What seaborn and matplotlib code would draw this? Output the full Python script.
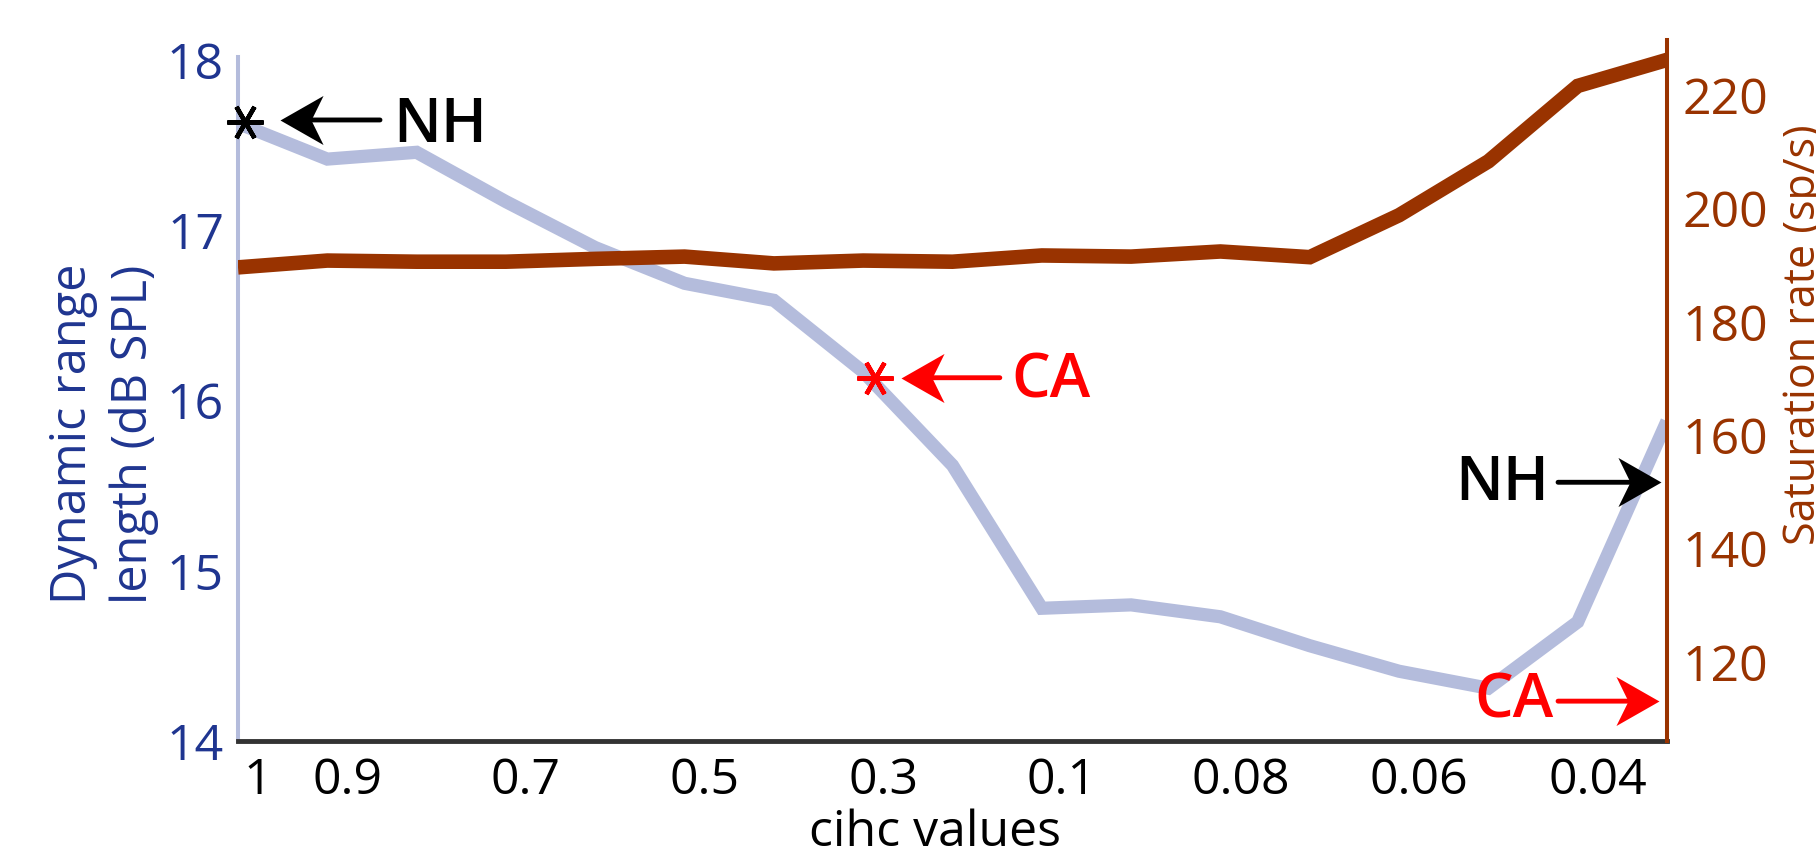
import numpy as np
import pandas as pd
import matplotlib
matplotlib.use("Agg")
import matplotlib.pyplot as plt
import matplotlib.transforms as mtransforms
from matplotlib.path import Path
import seaborn as sns

# ---- data ----
cihc_values = ["1", "0.9", "0.8", "0.7", "0.6", "0.5", "0.4", "0.3", "0.2",
               "0.1", "0.09", "0.08", "0.07", "0.06", "0.05", "0.04", "0.03"]
dynamic_range = [17.63, 17.42, 17.46, 17.17, 16.90, 16.69, 16.59, 16.17, 15.62,
                 14.78, 14.80, 14.73, 14.56, 14.41, 14.31, 14.70, 15.88]
saturation_rate = [189.6, 190.8, 190.6, 190.6, 191.1, 191.5, 190.3, 190.8, 190.6,
                   191.7, 191.5, 192.4, 191.4, 198.8, 208.3, 221.6, 226.2]
tick_labels = ["1", "0.9", "0.7", "0.5", "0.3", "0.1", "0.08", "0.06", "0.04"]
left_ticks = [14, 15, 16, 17, 18]
right_ticks = [120, 140, 160, 180, 200, 220]

BLUE_LINE = "#b4bcdc"
NAVY = "#1f3590"
BROWN = "#993300"
RED = "#ff0000"

sns.set_style("white")
plt.rcParams["font.family"] = ["Open Sans", "DejaVu Sans"]

fig = plt.figure(figsize=(18.16, 8.6), dpi=100)
ax = fig.add_axes([238 / 1816, 1 - 741 / 860, (1667 - 238) / 1816, (741 - 40) / 860])

pos = np.arange(len(cihc_values))
df = pd.DataFrame({"pos": pos, "dr": dynamic_range, "sr": saturation_rate})

sns.lineplot(data=df, x="pos", y="dr", ax=ax, color=BLUE_LINE, linewidth=9.5,
             sort=False, solid_joinstyle="miter", solid_capstyle="butt")
ax.set_xlim(0, len(cihc_values) - 1)
ax.set_ylim(14, 18.12)

tick_pos = [cihc_values.index(t) for t in tick_labels]
ax.set_xticks(tick_pos)
ax.set_xticklabels(tick_labels)
ax.set_yticks(left_ticks)
ax.tick_params(axis="x", length=0, pad=11, labelsize=36, labelcolor="black")
ax.tick_params(axis="y", length=0, pad=10, labelsize=36, labelcolor=NAVY)
offset = mtransforms.ScaledTranslation(20 / 100, 0, fig.dpi_scale_trans)
for lab in ax.get_xticklabels():
    lab.set_transform(lab.get_transform() + offset)

for s in ["top", "right"]:
    ax.spines[s].set_visible(False)
ax.spines["left"].set_color(BLUE_LINE)
ax.spines["left"].set_linewidth(2.9)
ax.spines["left"].set_bounds(14, 18.02)
ax.spines["bottom"].set_color("#333333")
ax.spines["bottom"].set_linewidth(3.5)

ax.set_xlabel("cihc values", fontsize=36, color="black")
ax.xaxis.set_label_coords((935 - 238) / 1429, (741 - 833) / 701)
ax.xaxis.label.set_va("center")
ax.set_ylabel("Dynamic range\nlength (dB SPL)", fontsize=35, color=NAVY,
              linespacing=1.3, multialignment="left")
ax.yaxis.label.set_va("center")
ax.yaxis.set_label_coords((104 - 238) / 1429, (741 - 434) / 701)

# right axis
ax2 = ax.twinx()
sns.lineplot(data=df, x="pos", y="sr", ax=ax2, color=BROWN, linewidth=10.5,
             sort=False, solid_joinstyle="miter", solid_capstyle="butt")
ax2.set_ylim(106.07, 229.7)
ax2.set_xlim(0, len(cihc_values) - 1)
ax2.set_yticks(right_ticks)
ax2.tick_params(axis="y", length=0, pad=11, labelsize=36, labelcolor=BROWN)
for s in ["top", "left", "bottom"]:
    ax2.spines[s].set_visible(False)
ax2.spines["right"].set_color(BROWN)
ax2.spines["right"].set_linewidth(2.9)
ax2.set_ylabel("Saturation rate (sp/s)", fontsize=31, color=BROWN, rotation=90)
ax2.yaxis.label.set_va("center")
ax2.yaxis.label.set_ha("center")
ax2.yaxis.set_label_coords((1804 - 238) / 1429, (741 - 335) / 701)

# ---- annotations ----
head_r = Path([(0, 0), (-1, 0.57), (-0.72, 0), (-1, -0.57), (0, 0)],
              [Path.MOVETO, Path.LINETO, Path.LINETO, Path.LINETO, Path.CLOSEPOLY])
head_l = Path([(0, 0), (1, 0.57), (0.72, 0), (1, -0.57), (0, 0)],
              [Path.MOVETO, Path.LINETO, Path.LINETO, Path.LINETO, Path.CLOSEPOLY])
HEAD_MS = 62


def arrow(axis, tail, tip, color, head):
    axis.annotate("", xy=tip, xytext=tail,
                  arrowprops=dict(arrowstyle="-", lw=3.5, color=color,
                                  shrinkA=0, shrinkB=16))
    axis.plot([tip[0]], [tip[1]], marker=head, markersize=HEAD_MS,
              markeredgewidth=0, color=color, clip_on=False, zorder=6)


star = (6, 2, 90)
txt_kw = dict(fontsize=44, fontweight="semibold", va="baseline")

# NH star (left)
ax.plot([0.08], [17.64], marker=star, markersize=26, markeredgewidth=3.2,
        color="black", clip_on=False, zorder=5)
arrow(ax, (1.59, 17.65), (0.47, 17.65), "black", head_l)
ax.text(1.74, 17.52, "NH", color="black", ha="left", **txt_kw)

# CA star (middle)
ax.plot([7.13], [16.135], marker=star, markersize=26, markeredgewidth=3.2,
        color=RED, zorder=5)
arrow(ax, (8.53, 16.135), (7.42, 16.135), RED, head_l)
ax.text(8.66, 16.02, "CA", color=RED, ha="left", **txt_kw)

# right-hand arrows (saturation rate)
arrow(ax2, (14.78, 151.7), (15.93, 151.7), "black", head_r)
ax2.text(14.68, 148.6, "NH", color="black", ha="right", **txt_kw)
arrow(ax2, (14.78, 113.1), (15.91, 113.1), RED, head_r)
ax2.text(14.73, 110.3, "CA", color=RED, ha="right", **txt_kw)

fig.savefig("out.png", dpi=100)
